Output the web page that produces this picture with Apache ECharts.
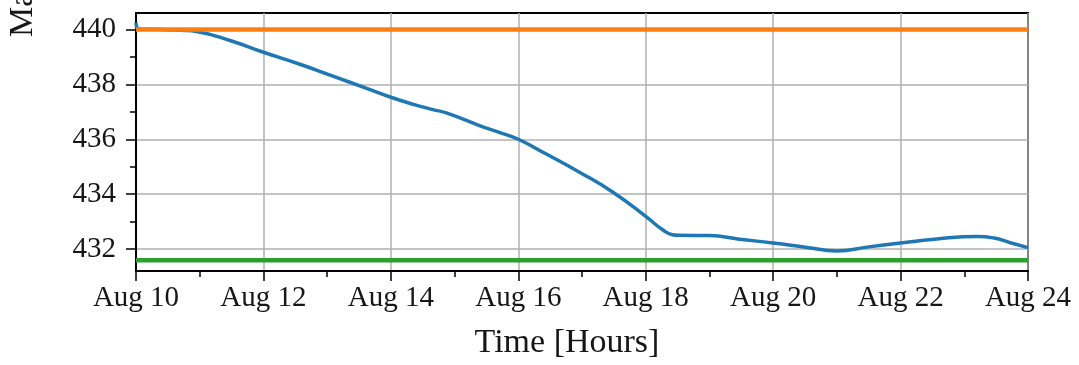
<!DOCTYPE html>
<html>
<head>
<meta charset="utf-8">
<script src="https://cdn.jsdelivr.net/npm/echarts@6/dist/echarts.min.js"></script>
<style>
  html, body { margin: 0; padding: 0; background: #fff; }
  #chart { width: 1079px; height: 365px; }
</style>
</head>
<body>
<div id="chart"></div>
<script>
// Day of August for each measured sample
const sampleDays = [10.0, 10.05, 10.4, 10.71, 10.97, 11.5, 12.0, 12.55, 13.08, 13.61,
  14.0, 14.34, 14.66, 14.87, 15.39, 15.7, 16.0, 16.44, 16.96, 17.48,
  18.0, 18.26, 18.42, 18.52, 19.0, 19.47, 20.0, 20.53, 21.0, 21.47,
  22.0, 22.53, 23.21, 23.47, 23.71, 24.0];
// Measured values
const sampleValues = [440.25, 440.02, 440.0, 439.97, 439.92, 439.58, 439.17, 438.75, 438.31, 437.86,
  437.53, 437.28, 437.08, 436.96, 436.5, 436.25, 436.0, 435.46, 434.8, 434.08,
  433.19, 432.71, 432.52, 432.5, 432.49, 432.36, 432.22, 432.06, 431.93, 432.07,
  432.22, 432.36, 432.46, 432.4, 432.24, 432.05];
// Horizontal limit lines
const limitDays = [10, 24];
const upperLimit = [440.0, 440.0];
const lowerLimit = [431.59, 431.59];
// Axis ticks
const majorYTicks = [432, 434, 436, 438, 440];
const minorYTicks = [433, 435, 437, 439];
const monthLabel = 'Aug';

const pair = (xs, ys) => xs.map((x, i) => [x, ys[i]]);

const textColor = '#161616';
const fontFamily = '"Liberation Serif", "DejaVu Serif", serif';

const chart = echarts.init(document.getElementById('chart'), null, { renderer: 'canvas' });
chart.setOption({
  animation: false,
  backgroundColor: '#fff',
  grid: {
    left: 136, right: 51, top: 13, bottom: 90,
    show: true, borderColor: '#000', borderWidth: 2, backgroundColor: 'transparent'
  },
  xAxis: {
    type: 'value',
    min: 10, max: 24, interval: 2,
    name: 'Time [Hours]',
    nameLocation: 'middle',
    nameGap: 55,
    nameTextStyle: { fontFamily, fontSize: 34, color: textColor, padding: [0, 30, 0, 0] },
    axisLine: { show: true, lineStyle: { color: '#000', width: 2 } },
    axisTick: { show: true, length: 10, lineStyle: { color: '#000', width: 1.5 } },
    minorTick: { show: true, splitNumber: 2, length: 6, lineStyle: { color: '#000', width: 1.5 } },
    axisLabel: {
      margin: 13, fontFamily, fontSize: 29, color: textColor,
      formatter: v => monthLabel + ' ' + v
    },
    splitLine: { show: true, lineStyle: { color: '#b0b0b0', width: 1.5 } }
  },
  yAxis: [{
    type: 'value',
    min: 431.2, max: 440.6, splitNumber: 5,
    axisLine: { show: true, lineStyle: { color: '#000', width: 2 } },
    axisTick: { show: true, length: 10, customValues: majorYTicks, lineStyle: { color: '#000', width: 1.5 } },
    axisLabel: { margin: 20, fontFamily, fontSize: 29, color: textColor, customValues: majorYTicks },
    splitLine: { show: true, lineStyle: { color: '#b0b0b0', width: 1.5 } }
  }, {
    type: 'value',
    min: 431.2, max: 440.6, splitNumber: 5,
    position: 'left',
    axisLine: { show: false },
    axisTick: { show: true, length: 6, customValues: minorYTicks, lineStyle: { color: '#000', width: 1.5 } },
    axisLabel: { show: false },
    splitLine: { show: false }
  }],
  graphic: [{
    type: 'text',
    x: 40, y: 37,
    rotation: Math.PI / 2,
    style: {
      text: 'Mass [kg]',
      fontFamily, fontSize: 34, fill: textColor,
      textAlign: 'left', textVerticalAlign: 'bottom'
    }
  }],
  series: [{
    type: 'line',
    data: pair(sampleDays, sampleValues),
    showSymbol: false,
    smooth: 0.5,
    lineStyle: { color: '#1f77b4', width: 3.5 },
    z: 2
  }, {
    type: 'line',
    data: pair(limitDays, upperLimit),
    showSymbol: false,
    lineStyle: { color: '#ff7f0e', width: 4.5 },
    z: 3
  }, {
    type: 'line',
    data: pair(limitDays, lowerLimit),
    showSymbol: false,
    lineStyle: { color: '#2ca02c', width: 4.5 },
    z: 3
  }]
});
</script>
</body>
</html>
